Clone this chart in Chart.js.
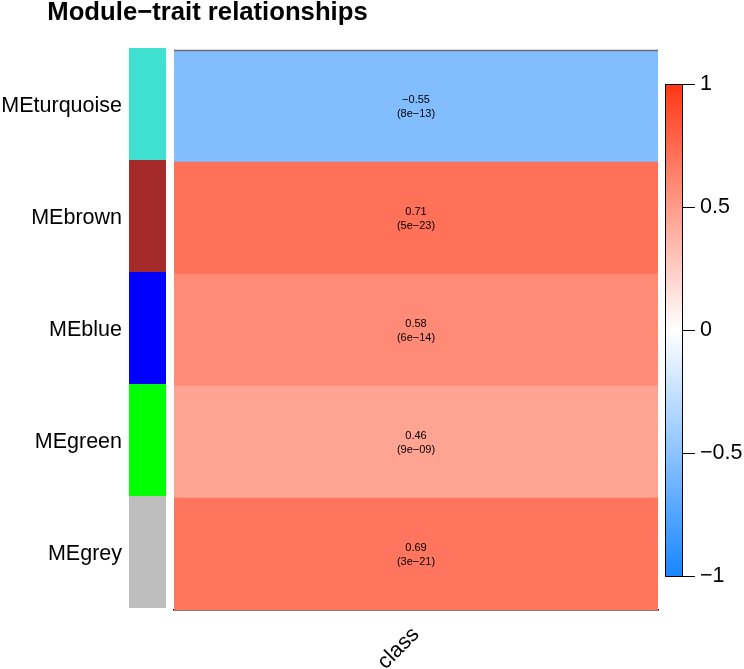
<!DOCTYPE html>
<html><head><meta charset="utf-8">
<script src="https://cdn.jsdelivr.net/npm/chart.js@4.4.1/dist/chart.umd.min.js"></script>
<style>html,body{margin:0;padding:0;background:#fff}</style>
</head><body>
<canvas id="c" width="744" height="669"></canvas>
<script>
const titleText = 'Module\u2212trait relationships';
const modules = ['MEturquoise', 'MEbrown', 'MEblue', 'MEgreen', 'MEgrey'];
const moduleColors = ['#40E0D0', '#A52A2A', '#0000FF', '#00FF00', '#BEBEBE'];
const traits = ['class'];
const correlations = [-0.55, 0.71, 0.58, 0.46, 0.69];
const pValues = ['8e\u221213', '5e\u221223', '6e\u221214', '9e\u221209', '3e\u221221'];
const colorbarTicks = [-1, -0.5, 0, 0.5, 1];

const FONT = '"Liberation Sans", Arial, Helvetica, sans-serif';

function corrColor(v) {
  const blue = [25, 135, 255], red = [255, 55, 20];
  const end = v < 0 ? blue : red;
  const t = Math.min(1, Math.abs(v));
  const c = end.map(e => Math.round(255 + (e - 255) * t));
  return `rgb(${c[0]},${c[1]},${c[2]})`;
}
function fmtSigned(v, digits) {
  const s = digits == null ? String(Math.abs(v)) : Math.abs(v).toFixed(digits);
  return (v < 0 ? '\u2212' : '') + s;
}
function noPad(s) { s.paddingTop = 0; s.paddingBottom = 0; s.paddingLeft = 0; s.paddingRight = 0; }

const decor = {
  id: 'decor',
  beforeDatasetsDraw(chart) {
    const ctx = chart.ctx, y = chart.scales.y, ca = chart.chartArea;
    const h = y.getPixelForValue(1) - y.getPixelForValue(0);
    ctx.save();
    modules.forEach((m, i) => {
      const cy = y.getPixelForValue(i);
      ctx.fillStyle = moduleColors[i];
      ctx.fillRect(ca.left - 45, cy - h / 2 - 2, 37, h);
    });
    const y2 = chart.scales.y2;
    const top = y2.getPixelForValue(1), bot = y2.getPixelForValue(-1);
    const x0 = ca.right + 7, w = 18;
    const g = ctx.createLinearGradient(0, bot, 0, top);
    for (let k = 0; k <= 20; k++) g.addColorStop(k / 20, corrColor(-1 + k / 10));
    ctx.fillStyle = g;
    ctx.fillRect(x0, top, w, bot - top);
    ctx.strokeStyle = '#000'; ctx.lineWidth = 1;
    ctx.strokeRect(x0 + 0.5, Math.round(top) + 0.5, w - 1, Math.round(bot - top));
    colorbarTicks.forEach(v => {
      const p = Math.round(y2.getPixelForValue(v)) + 0.5;
      ctx.beginPath(); ctx.moveTo(x0 + w, p); ctx.lineTo(x0 + w + 12, p); ctx.stroke();
    });
    ctx.restore();
  },
  afterDatasetsDraw(chart) {
    const ctx = chart.ctx, y = chart.scales.y, x = chart.scales.x, ca = chart.chartArea;
    ctx.save();
    ctx.fillStyle = '#000';
    ctx.font = '11px ' + FONT;
    ctx.textAlign = 'center'; ctx.textBaseline = 'middle';
    const cx = x.getPixelForValue(0.5);
    correlations.forEach((v, i) => {
      const cy = y.getPixelForValue(i);
      ctx.fillText(fmtSigned(v, 2), cx, cy - 6);
      ctx.fillText('(' + pValues[i] + ')', cx, cy + 8);
    });
    ctx.strokeStyle = '#6e6e6e'; ctx.lineWidth = 1.5;
    ctx.beginPath(); ctx.moveTo(ca.left, ca.top + 0.5); ctx.lineTo(ca.right, ca.top + 0.5); ctx.stroke();
    ctx.restore();
  },
  afterDraw(chart) {
    const ctx = chart.ctx;
    ctx.save();
    ctx.fillStyle = '#000';
    ctx.font = 'bold 25.7px ' + FONT;
    ctx.textAlign = 'center'; ctx.textBaseline = 'middle';
    ctx.fillText(titleText, 207.5, 13);
    ctx.restore();
  }
};

new Chart(document.getElementById('c'), {
  type: 'bar',
  data: {
    labels: modules,
    datasets: [{
      label: traits[0],
      data: correlations.map(() => 1),
      backgroundColor: correlations.map(corrColor),
      borderWidth: 0,
      barPercentage: 1,
      categoryPercentage: 1
    }]
  },
  options: {
    indexAxis: 'y',
    responsive: false,
    animation: false,
    layout: { padding: { top: 50, left: 0, right: 0, bottom: 0 } },
    plugins: { legend: { display: false }, tooltip: { enabled: false }, title: { display: false } },
    scales: {
      y: {
        type: 'category',
        position: 'left',
        grid: { display: false, drawTicks: false },
        border: { display: false },
        ticks: { color: '#000', font: { family: FONT, size: 21.5 }, padding: 52 },
        afterFit(s) { s.width = 174; noPad(s); }
      },
      x: {
        type: 'linear', min: 0, max: 1,
        grid: { display: false, drawTicks: false },
        border: { display: true, color: '#000', width: 1.5 },
        afterBuildTicks(s) { s.ticks = [{ value: 0.5 }]; },
        ticks: {
          color: '#000', font: { family: FONT, size: 21.5 }, padding: 12,
          minRotation: 45, maxRotation: 45, autoSkip: false,
          callback: () => traits[0]
        },
        afterFit(s) { s.height = 59; noPad(s); }
      },
      y2: {
        type: 'linear', position: 'right', axis: 'y',
        offset: false,
        min: -1.1382, max: 1.1382,
        grid: { display: false, drawTicks: false, offset: false },
        border: { display: false },
        afterBuildTicks(s) { s.ticks = colorbarTicks.map(v => ({ value: v })); },
        ticks: { color: '#000', font: { family: FONT, size: 21.5 }, padding: 42, callback: v => fmtSigned(v) },
        afterFit(s) { s.width = 86; noPad(s); }
      }
    }
  },
  plugins: [decor]
});
</script>
</body></html>
